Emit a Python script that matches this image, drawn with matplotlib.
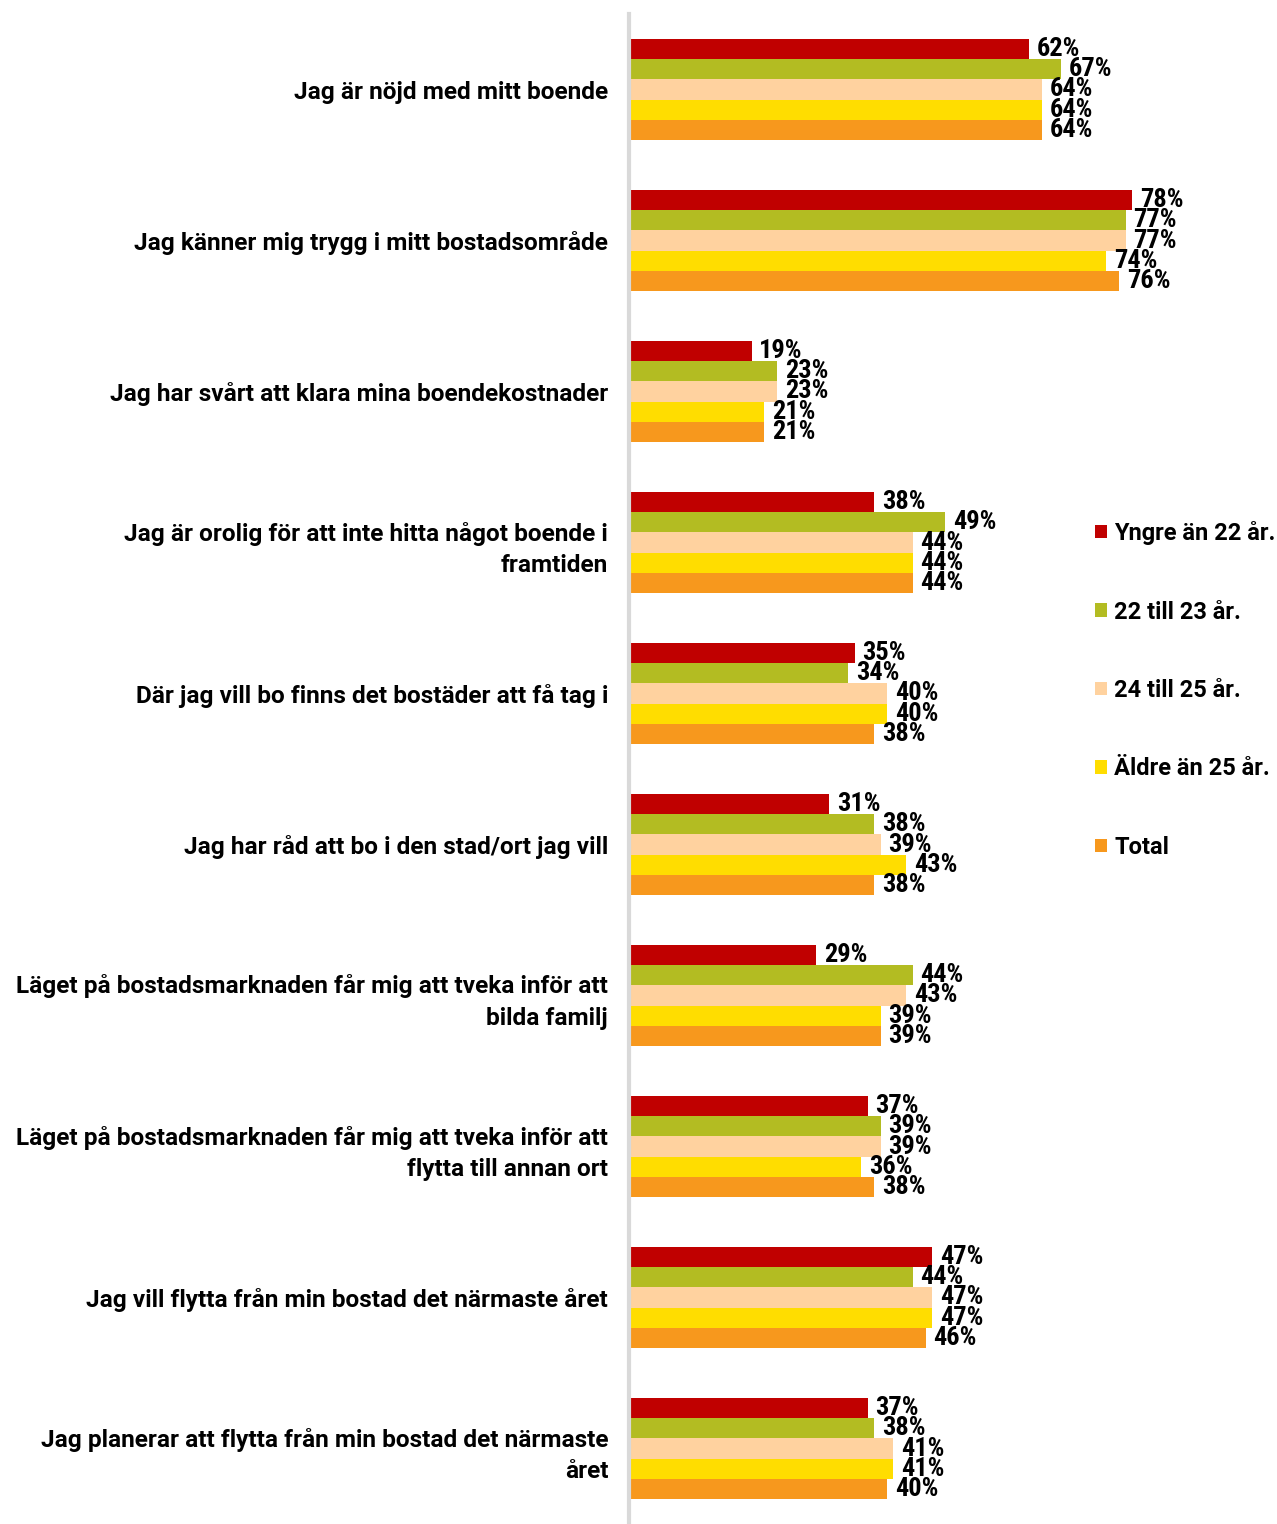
import matplotlib
matplotlib.use('Agg')

import numpy as np
import matplotlib.pyplot as plt
from matplotlib.patches import Patch

# categories top to bottom
categories = [
    "Jag är nöjd med mitt boende",
    "Jag känner mig trygg i mitt bostadsområde",
    "Jag har svårt att klara mina boendekostnader",
    "Jag är orolig för att inte hitta något boende i\nframtiden",
    "Där jag vill bo finns det bostäder att få tag i",
    "Jag har råd att bo i den stad/ort jag vill",
    "Läget på bostadsmarknaden får mig att tveka inför att\nbilda familj",
    "Läget på bostadsmarknaden får mig att tveka inför att\nflytta till annan ort",
    "Jag vill flytta från min bostad det närmaste året",
    "Jag planerar att flytta från min bostad det närmaste\nåret",
]

series_names = ["Yngre än 22 år.", "22 till 23 år.", "24 till 25 år.",
                "Äldre än 25 år.", "Total"]

yngre = [62, 78, 19, 38, 35, 31, 29, 37, 47, 37]
age_22_23 = [67, 77, 23, 49, 34, 38, 44, 39, 44, 38]
age_24_25 = [64, 77, 23, 44, 40, 39, 43, 39, 47, 41]
aldre = [64, 74, 21, 44, 40, 43, 39, 36, 47, 41]
total = [64, 76, 21, 44, 38, 38, 39, 38, 46, 40]

colors = ["#C00000", "#B3BC22", "#FFD29F", "#FFDD00", "#F7981D"]

label_font = ['Roboto', 'DejaVu Sans']
value_font = ['Roboto Condensed', 'Roboto', 'DejaVu Sans']
plt.rcParams['font.family'] = label_font

fig = plt.figure(figsize=(12.77, 15.24), dpi=100)
ax = fig.add_axes([629 / 1277, 0.0, 1 - 629 / 1277, 1 - 14 / 1524])

all_series = [yngre, age_22_23, age_24_25, aldre, total]
n = len(categories)
bar_h = 0.135
y = np.arange(n)

for i, vals in enumerate(all_series):
    pos = y - 2 * bar_h + i * bar_h
    bars = ax.barh(pos, vals, height=bar_h, color=colors[i], edgecolor='none')
    for b, v in zip(bars, vals):
        ax.text(b.get_width() + 1.2, b.get_y() + b.get_height() / 2, f"{v}%",
                ha='left', va='center', fontsize=19, fontweight='bold',
                family=value_font)

ax.set_xlim(0, (1277 - 629) / 6.45)
ax.set_ylim(n - 0.5, -0.5)
ax.set_xticks([])
ax.set_yticks(y)
ax.set_yticklabels(categories, fontsize=17.6, fontweight='bold', linespacing=1.45,
                   ha='right')
ax.tick_params(axis='y', length=0, pad=15)

for s in ['top', 'right', 'bottom']:
    ax.spines[s].set_visible(False)
ax.spines['left'].set_color('#D9D9D9')
ax.spines['left'].set_linewidth(3)

handles = [Patch(facecolor=c, edgecolor='none') for c in colors]
fig.legend(handles, series_names, loc='center left',
           bbox_to_anchor=(1074 / 1277, 1 - 690 / 1524), frameon=False,
           prop={'size': 17, 'weight': 'bold'}, handlelength=0.5,
           handleheight=0.5, handletextpad=0.3, labelspacing=2.35)

plt.savefig("out.png", dpi=100)
